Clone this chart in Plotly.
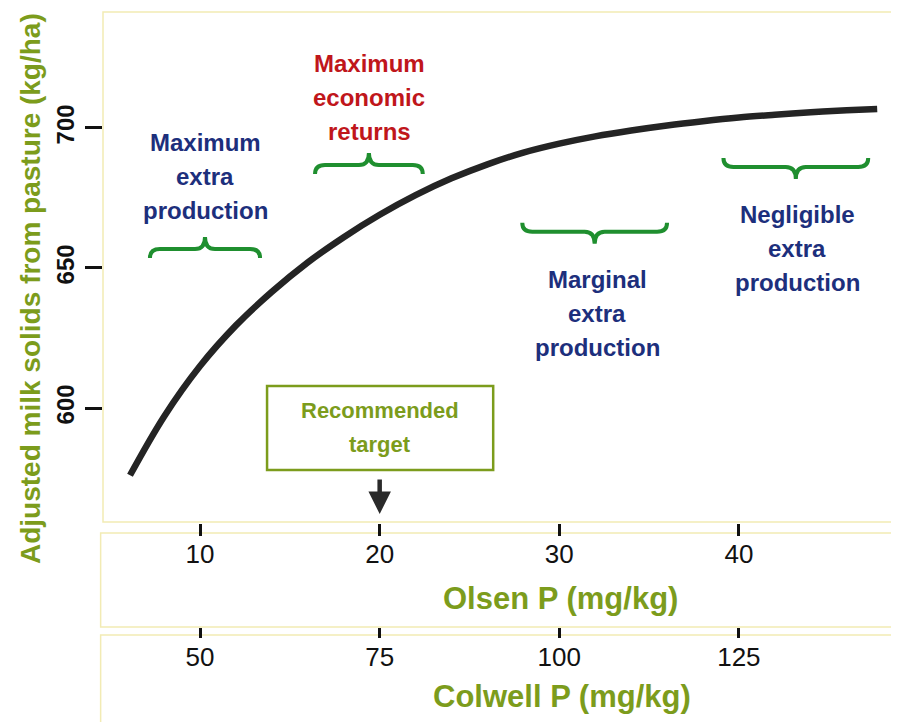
import plotly.graph_objects as go

# ---------------- data ----------------
olsen_p = [6.1, 8, 10, 12, 14, 16, 18, 20, 22, 24, 26, 28, 30, 32, 34, 36, 38, 40, 42, 44, 46, 47.7]
milk_solids = [576, 597, 615, 629.5, 641.5, 652, 661, 669, 676, 682, 687, 691.2, 694.4, 697,
               699.1, 700.9, 702.4, 703.7, 704.7, 705.6, 706.3, 706.8]

olsen_ticks = [10, 20, 30, 40]
colwell_ticks = [50, 75, 100, 125]
y_ticks = [600, 650, 700]

zone_labels = [
    ["Maximum", "extra", "production"],
    ["Maximum", "economic", "returns"],
    ["Marginal", "extra", "production"],
    ["Negligible", "extra", "production"],
]
zone_label_x = [10.28, 19.41, 32.12, 43.26]
zone_label_y = [682.5, 710.7, 633.9, 657.1]
zone_colors = ["#1d2f7c", "#c0161b", "#1d2f7c", "#1d2f7c"]

brace_x0 = [7.21, 16.4, 27.94, 39.14]
brace_x1 = [13.34, 22.4, 36.0, 47.2]
brace_y = [656.8, 686.8, 662.9, 686.1]
brace_tip_up = [True, True, False, False]

target_olsen = 20
target_box_x = [13.73, 26.32]
target_box_y = [577.9, 607.9]
target_text = ["Recommended", "target"]

# ---------------- layout constants ----------------
# page offset of the figure div (browser body margin)
OFF = 8
W, H = 899 - OFF, 722 - OFF
ML_PAGE, MT_PAGE = 103, 12
ML, MR, MT, MB = ML_PAGE - OFF, 6, MT_PAGE - OFF, 0
plot_w = W - ML - MR
paper_h = H - MT - MB
x_range = [4.596, 48.58]
y_range = [559.3, 741.4]
plot_bottom_px = 522
paper_bottom_page = OFF + H - MB


def px_to_paper_y(py):
    return (paper_bottom_page - py) / paper_h


def px_to_paper_x(px):
    return (px - ML_PAGE) / plot_w


y_dom0 = px_to_paper_y(plot_bottom_px)
plot_h = (1 - y_dom0) * paper_h
xpx = plot_w / (x_range[1] - x_range[0])
ypx = plot_h / (y_range[1] - y_range[0])


def olsen_to_colwell(v):
    return 50 + (v - 10) * 2.5


colwell_range = [olsen_to_colwell(x_range[0]), olsen_to_colwell(x_range[1])]

OLIVE = "#7c9c1c"
PALE = "#f2ebb4"
BRACE = "#1f8f2f"
BOLDF = "Liberation Sans, Arial, sans-serif"

fig = go.Figure()
fig.add_trace(go.Scatter(
    x=olsen_p, y=milk_solids, mode="lines",
    line=dict(color="#242424", width=6.5, shape="spline", smoothing=1.0),
    hoverinfo="skip", showlegend=False,
))
fig.add_trace(go.Scatter(x=[None], y=[None], xaxis="x2", showlegend=False))
fig.add_trace(go.Scatter(x=[None], y=[None], xaxis="x3", showlegend=False))

shapes = []
shapes.append(dict(type="rect", xref="paper", yref="paper", x0=0, x1=1, y0=y_dom0, y1=1,
                   line=dict(color=PALE, width=1.5), layer="below"))
shapes.append(dict(type="rect", xref="paper", yref="paper", x0=-0.003, x1=1.01,
                   y0=px_to_paper_y(627), y1=px_to_paper_y(533),
                   line=dict(color=PALE, width=1.5), layer="below"))
shapes.append(dict(type="rect", xref="paper", yref="paper", x0=-0.003, x1=1.01,
                   y0=px_to_paper_y(740), y1=px_to_paper_y(635),
                   line=dict(color=PALE, width=1.5), layer="below"))


def brace_path(x0, x1, yb, tip_up):
    r = 10 / xpx
    s = 1 if tip_up else -1
    tip = yb + s * 12 / ypx
    end = yb - s * 9 / ypx
    xm = (x0 + x1) / 2
    return (f"M {x0},{end} Q {x0},{yb} {x0 + r},{yb} L {xm - r},{yb} "
            f"Q {xm},{yb} {xm},{tip} Q {xm},{yb} {xm + r},{yb} "
            f"L {x1 - r},{yb} Q {x1},{yb} {x1},{end}")


for x0, x1, yb, up in zip(brace_x0, brace_x1, brace_y, brace_tip_up):
    shapes.append(dict(type="path", xref="x", yref="y", path=brace_path(x0, x1, yb, up),
                       line=dict(color=BRACE, width=4)))

shapes.append(dict(type="rect", xref="x", yref="y",
                   x0=target_box_x[0], x1=target_box_x[1], y0=target_box_y[0], y1=target_box_y[1],
                   line=dict(color=OLIVE, width=2.5), fillcolor="white"))

annotations = []
pitch = 34
for lines, xc, yc, col in zip(zone_labels, zone_label_x, zone_label_y, zone_colors):
    n = len(lines)
    for i, t in enumerate(lines):
        annotations.append(dict(x=xc, y=yc, xref="x", yref="y", text=t, showarrow=False,
                                xanchor="center", yanchor="middle",
                                yshift=((n - 1) / 2 - i) * pitch,
                                font=dict(family=BOLDF, size=24, color=col, weight="bold")))

tb_yc = (target_box_y[0] + target_box_y[1]) / 2
for i, t in enumerate(target_text):
    annotations.append(dict(x=target_olsen, y=tb_yc, xref="x", yref="y", text=t, showarrow=False,
                            xanchor="center", yanchor="middle",
                            yshift=(0.5 - i) * pitch,
                            font=dict(family=BOLDF, size=22, color=OLIVE, weight="bold")))

annotations.append(dict(x=target_olsen, y=y_range[0] + (plot_bottom_px - 514) / ypx,
                        xref="x", yref="y", ax=0, ay=-36, text="", showarrow=True,
                        arrowhead=2, arrowsize=1.0, arrowwidth=4.5, arrowcolor="#2a2a2a"))

annotations.append(dict(x=px_to_paper_x(30), y=px_to_paper_y(289), xref="paper", yref="paper",
                        text="Adjusted milk solids from pasture (kg/ha)", textangle=-90,
                        showarrow=False, xanchor="center", yanchor="middle",
                        font=dict(family=BOLDF, size=28, color=OLIVE, weight="bold")))
annotations.append(dict(x=px_to_paper_x(560), y=px_to_paper_y(598), xref="paper", yref="paper",
                        text="Olsen P (mg/kg)", showarrow=False, xanchor="center", yanchor="middle",
                        font=dict(family=BOLDF, size=31, color=OLIVE, weight="bold")))
annotations.append(dict(x=px_to_paper_x(562), y=px_to_paper_y(696), xref="paper", yref="paper",
                        text="Colwell P (mg/kg)", showarrow=False, xanchor="center", yanchor="middle",
                        font=dict(family=BOLDF, size=31, color=OLIVE, weight="bold")))

tickfont_x = dict(family="Liberation Sans, Arial, sans-serif", size=26, color="#111111")

fig.update_layout(
    width=W, height=H,
    margin=dict(l=ML, r=MR, t=MT, b=MB, pad=0),
    paper_bgcolor="white", plot_bgcolor="white",
    showlegend=False,
    xaxis=dict(range=x_range, domain=[0, 1], anchor="y", showgrid=False, zeroline=False,
               showline=False, showticklabels=False, ticks=""),
    xaxis2=dict(range=x_range, overlaying="x", anchor="free", position=px_to_paper_y(523),
                side="bottom", tickmode="array", tickvals=olsen_ticks,
                ticktext=[str(v) for v in olsen_ticks], ticks="outside", ticklen=12,
                tickwidth=3, tickcolor="#111111", showgrid=False, zeroline=False,
                showline=False, tickfont=tickfont_x, ticklabelstandoff=-4),
    xaxis3=dict(range=colwell_range, overlaying="x", anchor="free", position=px_to_paper_y(627),
                side="bottom", tickmode="array", tickvals=colwell_ticks,
                ticktext=[str(v) for v in colwell_ticks], ticks="outside", ticklen=10,
                tickwidth=3, tickcolor="#111111", showgrid=False, zeroline=False,
                showline=False, tickfont=tickfont_x, ticklabelstandoff=-3),
    yaxis=dict(range=y_range, domain=[y_dom0, 1], anchor="x", showgrid=False, zeroline=False,
               showline=False, tickmode="array", tickvals=y_ticks,
               ticktext=[str(v) for v in y_ticks], ticks="outside", ticklen=17,
               tickwidth=3, tickcolor="#111111", tickangle=-90, ticklabelstandoff=1,
               tickfont=dict(family=BOLDF, size=24, color="#111111", weight="bold")),
    shapes=shapes,
    annotations=annotations,
)

fig.write_html("out.html")
